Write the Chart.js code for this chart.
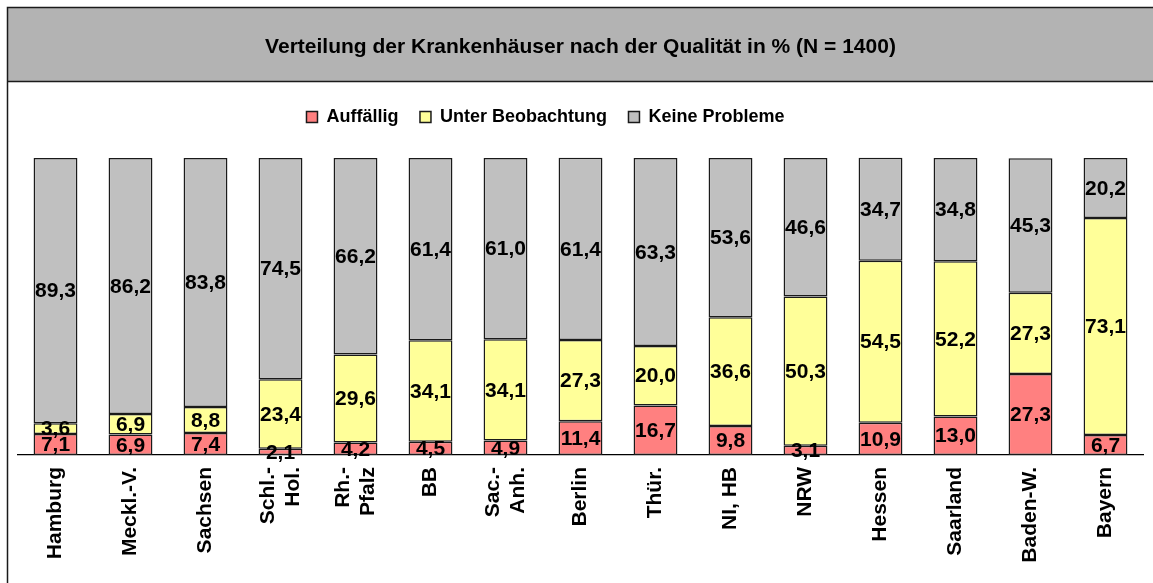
<!DOCTYPE html>
<html lang="de">
<head>
  <meta charset="UTF-8" />
  <title>Verteilung der Krankenhäuser</title>
  <script src="https://cdn.jsdelivr.net/npm/chart.js"></script>
  <style>
    html, body { margin: 0; padding: 0; background: #fff; }
    #wrap { width: 1153px; height: 583px; position: relative; }
  </style>
</head>
<body>
  <div id="wrap">
    <canvas id="qualChart" width="1153" height="583"></canvas>
  </div>

  <script>
    // Daten
    const laender = [
      'Hamburg', 'Meckl.-V.', 'Sachsen', ['Schl.-', 'Hol.'], ['Rh.-', 'Pfalz'], 'BB',
      ['Sac.-', 'Anh.'], 'Berlin', 'Thür.', 'NI, HB', 'NRW', 'Hessen', 'Saarland', 'Baden-W.', 'Bayern'
    ];
    const auffaellig = [7.1, 6.9, 7.4, 2.1, 4.2, 4.5, 4.9, 11.4, 16.7, 9.8, 3.1, 10.9, 13.0, 27.3, 6.7];
    const unterBeobachtung = [3.6, 6.9, 8.8, 23.4, 29.6, 34.1, 34.1, 27.3, 20.0, 36.6, 50.3, 54.5, 52.2, 27.3, 73.1];
    const keineProbleme = [89.3, 86.2, 83.8, 74.5, 66.2, 61.4, 61.0, 61.4, 63.3, 53.6, 46.6, 34.7, 34.8, 45.3, 20.2];

    const FONT = '"Liberation Sans", Arial, sans-serif';
    const TICK_SIZE = 21;

    // grauer Titelbalken + Rahmen, kleine Layout-Korrekturen
    const frame = {
      id: 'frame',
      afterInit(chart) {
        // Legende etwas höher machen, damit die Balken bei y=158 beginnen
        const legend = chart.legend;
        const origFit = legend.fit;
        legend.fit = function () {
          origFit.call(this);
          this.height = 71.5;
        };
      },
      afterLayout(chart) {
        // Legende sitzt im Original etwas links der Mitte
        chart.legend.left -= 35;
        chart.legend.right -= 35;

        // zweizeilige, gedrehte Achsenbeschriftungen um den Tick zentrieren
        const sc = chart.scales.x;
        if (!sc._centered) {
          const orig = sc._computeLabelItems;
          sc._computeLabelItems = function (area) {
            const items = orig.call(this, area);
            const lh = TICK_SIZE * 1.2;
            items.forEach(it => {
              const n = Array.isArray(it.label) ? it.label.length : 1;
              it.options.translation[0] -= (n - 1) * lh / 2;
            });
            return items;
          };
          sc._centered = true;
        }
      },
      beforeDraw(chart) {
        const ctx = chart.ctx;
        ctx.save();
        ctx.fillStyle = '#b3b3b3';
        ctx.fillRect(7, 7, chart.width, 74);
        ctx.strokeStyle = '#1a1a1a';
        ctx.lineWidth = 1.5;
        ctx.strokeRect(7.5, 7.5, chart.width + 10, chart.height + 10);
        ctx.beginPath();
        ctx.moveTo(7, 81.5);
        ctx.lineTo(chart.width, 81.5);
        ctx.stroke();
        ctx.restore();
      }
    };

    // Werte in die Balken schreiben
    const valueLabels = {
      id: 'valueLabels',
      afterDatasetsDraw(chart) {
        const ctx = chart.ctx;
        ctx.save();
        ctx.font = 'bold 21px ' + FONT;
        ctx.fillStyle = '#000';
        ctx.textAlign = 'center';
        ctx.textBaseline = 'middle';
        chart.data.datasets.forEach((ds, i) => {
          chart.getDatasetMeta(i).data.forEach((bar, j) => {
            const y = (bar.y + bar.base) / 2;
            ctx.fillText(ds.data[j].toFixed(1).replace('.', ','), bar.x, y + 1);
          });
        });
        ctx.restore();
      }
    };

    const ctx = document.getElementById('qualChart').getContext('2d');
    new Chart(ctx, {
      type: 'bar',
      data: {
        labels: laender,
        datasets: [
          { label: 'Auffällig', data: auffaellig, backgroundColor: '#ff8080' },
          { label: 'Unter Beobachtung', data: unterBeobachtung, backgroundColor: '#ffff99' },
          { label: 'Keine Probleme', data: keineProbleme, backgroundColor: '#c0c0c0' }
        ]
      },
      options: {
        responsive: false,
        animation: false,
        layout: { padding: { top: 7, left: 18, right: 10, bottom: 0 } },
        datasets: {
          bar: {
            borderColor: '#1a1a1a',
            borderWidth: 1.5,
            borderSkipped: false,
            categoryPercentage: 1,
            barPercentage: 0.585,
            clip: false
          }
        },
        scales: {
          x: {
            stacked: true,
            grid: { display: false, drawTicks: false },
            border: { display: true, color: '#000', width: 1.2 },
            ticks: {
              color: '#000',
              font: { family: FONT, size: TICK_SIZE, weight: 'bold', lineHeight: 1.2 },
              minRotation: 90,
              maxRotation: 90,
              padding: 12,
              autoSkip: false
            },
            afterFit(scale) { scale.height = 128; }
          },
          y: {
            stacked: true,
            display: false,
            min: 0,
            max: 100
          }
        },
        plugins: {
          title: {
            display: true,
            text: 'Verteilung der Krankenhäuser nach der Qualität in % (N = 1400)',
            color: '#000',
            font: { family: FONT, size: 21, weight: 'bold', lineHeight: 1.2 },
            padding: { top: 27.4, bottom: 26.9 }
          },
          legend: {
            display: true,
            position: 'top',
            labels: {
              color: '#000',
              font: { family: FONT, size: 18, weight: 'bold' },
              boxWidth: 11,
              boxHeight: 11,
              padding: 21.5
            }
          },
          tooltip: { enabled: false }
        }
      },
      plugins: [frame, valueLabels]
    });
  </script>
</body>
</html>
